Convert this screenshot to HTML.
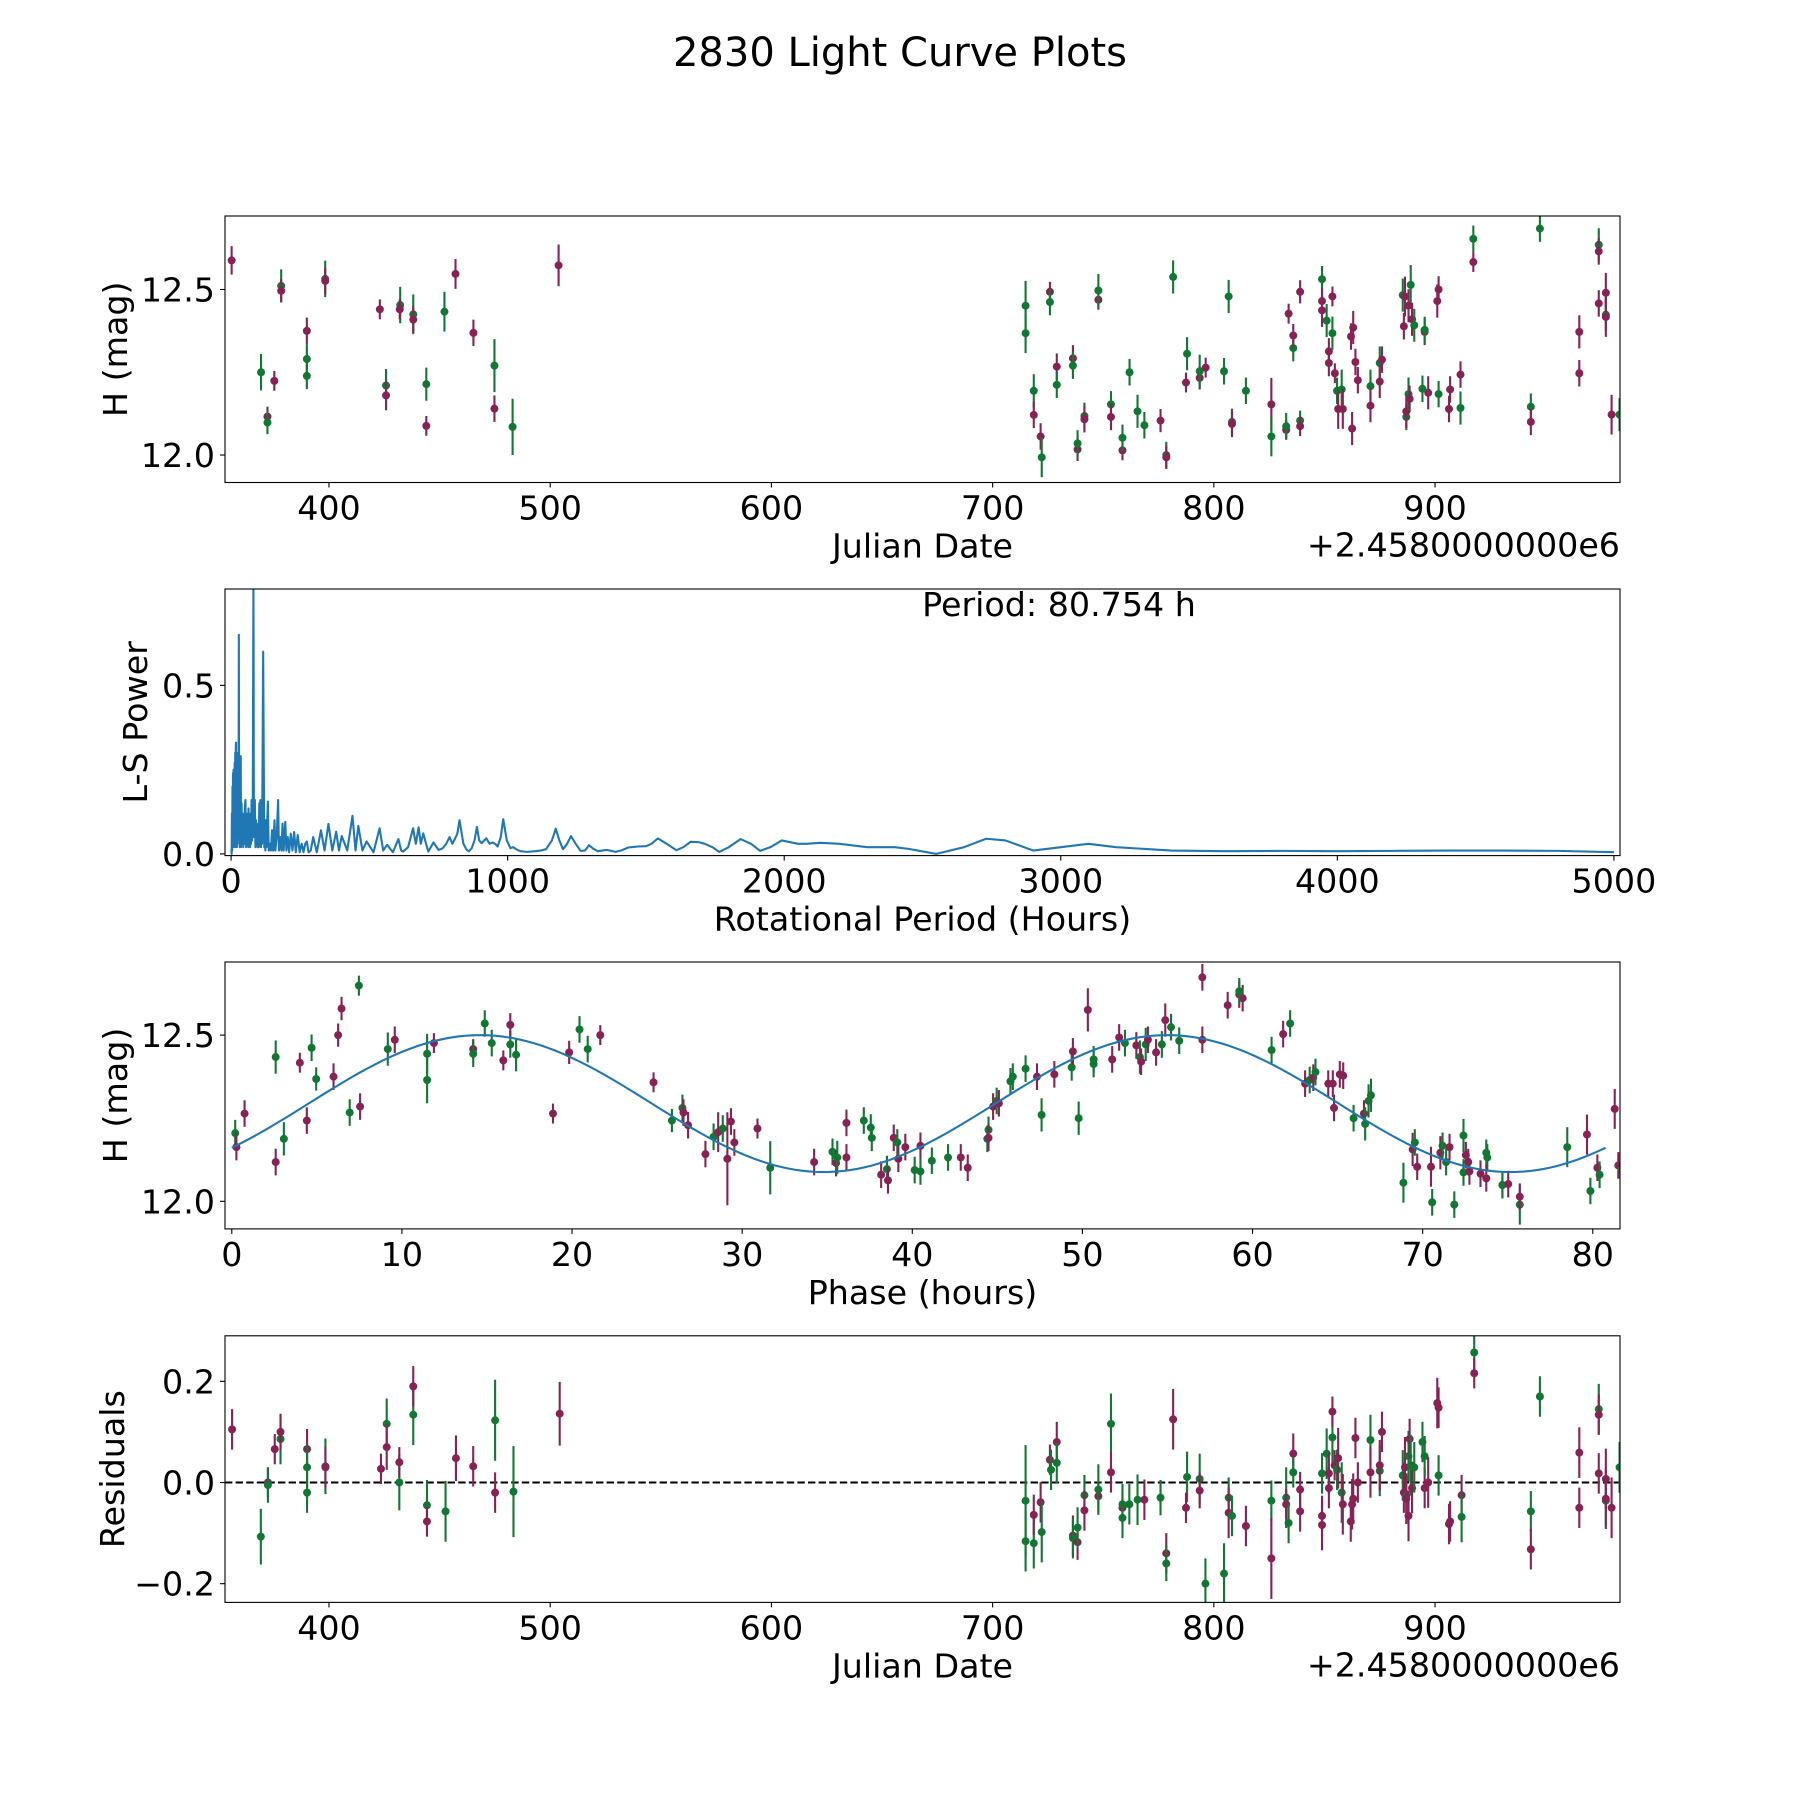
<!DOCTYPE html>
<html><head><meta charset="utf-8"><title>2830 Light Curve Plots</title>
<style>
html,body{margin:0;padding:0;background:#fff;}
svg{display:block;font-family:"DejaVu Sans","Liberation Sans",sans-serif;}
</style></head>
<body>
<svg id="fig" width="1800" height="1800" viewBox="0 0 1800 1800" xmlns="http://www.w3.org/2000/svg">
<rect x="0" y="0" width="1800" height="1800" fill="#fff"/>
<text x="900" y="66" font-size="40" text-anchor="middle">2830 Light Curve Plots</text>
</svg>
<script>
// ---------- Panel 1: light curve ----------
const lcJD = [356.0,369.3,372.2,372.2,375.3,378.4,378.4,390,390,390,398.3,398.3,423,425.8,425.8,432.2,432,438.1,438.1,444,444,452.2,457.2,465.3,474.8,474.8,483,503.8,
714.9,714.9,718.6,718.6,721.7,722.2,725.9,725.9,729,729,736.3,736.3,738.4,738.4,741.5,741.5,747.8,747.8,753.5,753.5,758.7,758.7,761.9,765.5,768.6,775.9,778.5,778.5,781.6,787.4,787.9,793.6,793.6,796.3,804.6,806.7,808.2,808.2,814.5,826,826,832.7,832.7,833.8,835.9,835.9,839,839,839,848.9,848.9,848.9,851,852,852,853.6,853.6,854.7,855.7,856.2,857.8,858.3,862,862.5,863,864,865.1,870.8,870.8,875,875,876,885.4,885.9,886.4,887,887,888,888.5,889,888,889.6,890.6,895.3,895.3,896.9,894.3,901,901.6,901.6,906.3,906.8,911.5,911.5,917.3,917.3,943.3,943.3,947.4,965.2,965.2,974,974,974,977.2,977.2,977.2,979.8,983.4];
const lcMag = [12.588,12.25,12.116,12.098,12.224,12.511,12.496,12.375,12.29,12.239,12.532,12.526,12.44,12.21,12.18,12.453,12.44,12.425,12.409,12.214,12.088,12.433,12.547,12.369,12.27,12.14,12.085,12.573,
12.451,12.368,12.194,12.121,12.056,11.993,12.493,12.462,12.267,12.212,12.292,12.27,12.017,12.035,12.118,12.108,12.469,12.497,12.153,12.115,12.014,12.052,12.25,12.132,12.09,12.104,12.0,11.993,12.538,12.219,12.306,12.233,12.253,12.264,12.253,12.479,12.1,12.094,12.194,12.153,12.056,12.076,12.087,12.427,12.323,12.361,12.104,12.087,12.493,12.531,12.465,12.437,12.406,12.313,12.278,12.368,12.479,12.247,12.194,12.139,12.198,12.139,12.358,12.08,12.385,12.281,12.226,12.208,12.149,12.278,12.222,12.288,12.483,12.389,12.479,12.115,12.132,12.184,12.17,12.514,12.451,12.41,12.392,12.372,12.378,12.188,12.2,12.465,12.5,12.184,12.139,12.198,12.243,12.142,12.653,12.583,12.146,12.1,12.684,12.372,12.247,12.635,12.615,12.458,12.49,12.424,12.417,12.122,12.122];
const lcErr = [.043,.055,.03,.035,.03,.05,.035,.04,.045,.04,.055,.04,.03,.05,.045,.055,.03,.06,.04,.05,.03,.06,.045,.04,.08,.04,.085,.063,
.075,.06,.05,.04,.04,.06,.03,.04,.04,.04,.04,.04,.035,.04,.04,.04,.03,.05,.04,.04,.03,.04,.04,.05,.04,.035,.04,.035,.05,.03,.05,.035,.05,.03,.04,.05,.04,.04,.04,.08,.06,.03,.04,.03,.04,.035,.03,.03,.035,.04,.04,.05,.05,.04,.04,.05,.03,.03,.04,.06,.06,.06,.04,.05,.05,.04,.04,.05,.05,.05,.05,.04,.05,.04,.06,.04,.05,.05,.04,.06,.05,.05,.05,.04,.04,.05,.04,.05,.04,.04,.04,.04,.04,.05,.04,.03,.04,.04,.04,.05,.04,.05,.04,.04,.06,.05,.06,.06,.05];
const lcBand = ['p','g','p','g','p','g','p','p','g','g','g','p','p','g','p','g','p','g','p','g','p','g','p','p','g','p','g','p',
'g','g','g','p','p','g','p','g','p','g','p','g','p','g','g','p','p','g','g','p','p','g','g','g','g','p','g','p','g','p','g','p','g','p','g','g','g','p','g','p','g','p','g','p','g','p','g','p','p','g','p','p','g','p','p','g','p','p','g','p','g','p','p','p','p','p','p','g','p','g','p','p','g','p','p','g','p','g','p','g','p','p','g','p','g','p','g','p','p','g','p','p','p','g','g','p','g','p','g','p','p','g','p','p','p','g','p','p','g','g','p'];

// ---------- Panel 2: periodogram ----------
const lsPeriod = [1,2,3,4,5,6,7,8,9,10,11,12,13,14,15,16,17,18,19,20,21,22,23,24,25,26,27,28,29,30,31,32,33,35,36,38,40,42,44,46,48,50,52,54,56,58,60,62,63,65,67,69,71,72,74,76,78,79,80,80.754,81.5,82,83,86,88,90,92,94,96,98,100,102,104,106,108,110,112,114,116,118,120,122,124,126,128,130,133,136,140,144,148,152,157,160,165,170,173,178,182,186,190,196,200,205,210,216,222,228,234,241,248,255,262,268,274,280,288,297,310,325,338,352,366,380,390,400,420,439,450,460,475,490,515,537,550,564,585,605,615,622,640,658,668,678,686,695,705,713,722,732,750,764,778,790,800,809,818,826,840,852,860,870,880,889,897,906,915,923,935,945,955,964,975,984,997,1010,1020,1029,1040,1048,1070,1100,1120,1139,1160,1174,1187,1200,1215,1229,1246,1264,1280,1294,1310,1326,1342,1358,1375,1390,1410,1436,1470,1500,1520,1543,1575,1610,1635,1662,1690,1713,1740,1765,1800,1842,1880,1913,1950,1991,2050,2080,2130,2200,2300,2400,2450,2550,2650,2730,2800,2900,3000,3100,3200,3400,3600,3800,4000,4200,4400,4600,4800,5000];
const lsPower = [0.01,0.0,0.12,0.01,0.2,0.02,0.24,0.03,0.25,0.04,0.2,0.02,0.27,0.05,0.3,0.02,0.32,0.33,0.05,0.3,0.02,0.25,0.03,0.2,0.05,0.3,0.1,0.65,0.1,0.2,0.02,0.25,0.05,0.29,0.02,0.15,0.03,0.12,0.02,0.1,0.03,0.14,0.16,0.02,0.1,0.03,0.12,0.02,0.135,0.03,0.1,0.02,0.12,0.03,0.16,0.04,0.1,0.3,0.6,0.79,0.6,0.25,0.05,0.16,0.02,0.1,0.03,0.08,0.02,0.09,0.02,0.15,0.03,0.16,0.02,0.1,0.03,0.3,0.6,0.3,0.02,0.07,0.01,0.1,0.02,0.08,0.155,0.01,0.03,0.01,0.07,0.01,0.1,0.01,0.05,0.16,0.01,0.05,0.01,0.09,0.01,0.095,0.01,0.05,0.005,0.06,0.01,0.065,0.005,0.056,0.005,0.03,0.005,0.03,0.037,0.005,0.01,0.05,0.005,0.07,0.01,0.089,0.01,0.066,0.01,0.053,0.01,0.113,0.01,0.083,0.01,0.037,0.005,0.076,0.01,0.027,0.005,0.044,0.01,0.007,0.02,0.076,0.03,0.079,0.03,0.061,0.03,0.007,0.02,0.034,0.012,0.016,0.03,0.05,0.03,0.044,0.06,0.1,0.03,0.012,0.008,0.017,0.04,0.08,0.04,0.032,0.04,0.046,0.03,0.034,0.03,0.022,0.05,0.103,0.04,0.017,0.02,0.015,0.01,0.008,0.006,0.008,0.01,0.014,0.04,0.075,0.04,0.014,0.03,0.053,0.03,0.009,0.01,0.026,0.015,0.008,0.01,0.012,0.009,0.006,0.01,0.019,0.022,0.023,0.03,0.046,0.03,0.011,0.02,0.036,0.035,0.03,0.02,0.006,0.02,0.044,0.03,0.009,0.02,0.04,0.03,0.03,0.033,0.03,0.02,0.02,0.015,0.0,0.02,0.045,0.04,0.01,0.02,0.03,0.02,0.01,0.008,0.009,0.008,0.009,0.01,0.01,0.009,0.005,0.001];
const bestPeriod = 80.754;

// ---------- Panel 3: phase-folded ----------
const phHours = [0.2,0.27,0.75,2.58,2.58,3.06,4.0,4.41,4.69,4.96,5.98,6.25,6.45,6.93,7.47,7.54,9.17,9.58,11.48,11.48,11.88,14.19,14.19,14.87,15.28,15.96,16.37,16.37,16.71,18.88,19.83,20.44,20.92,21.66,24.79,25.87,26.49,26.55,26.82,27.84,28.32,28.59,28.86,29.13,29.34,29.54,30.9,31.65,34.23,35.31,35.52,35.59,36.13,36.13,37.15,37.56,37.62,38.17,38.51,38.57,38.91,39.12,39.18,39.59,40.14,40.48,40.48,41.15,42.1,42.85,43.26,44.41,44.48,44.48,44.75,44.96,45.09,45.77,45.91,46.66,47.33,47.6,48.35,49.37,49.44,49.78,50.32,50.66,50.66,51.75,52.16,52.5,53.17,53.38,53.45,53.72,53.85,54.33,54.67,54.87,55.21,55.69,57.05,57.05,58.54,59.22,59.42,59.22,61.12,61.8,62.21,63.09,63.36,63.57,63.7,64.45,64.72,64.79,65.13,65.33,65.94,66.55,66.62,66.82,66.96,68.87,69.41,69.54,69.68,70.49,70.56,71.04,71.17,71.38,71.58,71.86,72.4,72.54,72.68,72.4,72.75,73.74,73.8,73.4,73.74,74.69,74.69,75.03,75.71,75.71,78.5,79.66,79.86,80.27,80.4,81.29,81.5,81.7];
const phMag = [12.205,12.163,12.264,12.434,12.118,12.188,12.417,12.243,12.462,12.368,12.375,12.5,12.58,12.267,12.649,12.285,12.458,12.486,12.444,12.365,12.476,12.458,12.444,12.535,12.476,12.424,12.472,12.531,12.441,12.264,12.448,12.517,12.458,12.5,12.358,12.243,12.281,12.267,12.229,12.142,12.194,12.208,12.219,12.128,12.24,12.177,12.219,12.101,12.118,12.149,12.115,12.132,12.132,12.236,12.243,12.222,12.191,12.08,12.097,12.063,12.191,12.177,12.128,12.163,12.094,12.167,12.09,12.122,12.132,12.132,12.101,12.188,12.215,12.191,12.285,12.302,12.295,12.361,12.375,12.399,12.375,12.26,12.382,12.403,12.451,12.25,12.576,12.413,12.427,12.427,12.493,12.476,12.469,12.434,12.42,12.472,12.486,12.448,12.472,12.545,12.524,12.483,12.674,12.486,12.59,12.622,12.611,12.632,12.455,12.503,12.535,12.354,12.365,12.372,12.389,12.354,12.354,12.281,12.382,12.378,12.25,12.264,12.233,12.302,12.319,12.056,12.156,12.177,12.104,12.104,11.997,12.146,12.167,12.118,12.163,11.99,12.198,12.139,12.118,12.087,12.09,12.146,12.132,12.083,12.069,12.049,12.049,12.052,11.99,12.014,12.163,12.201,12.031,12.101,12.08,12.278,12.108,12.097];
const phErr = [.04,.04,.04,.05,.04,.05,.03,.04,.04,.035,.04,.035,.035,.04,.03,.04,.05,.04,.06,.07,.03,.03,.04,.04,.04,.03,.04,.035,.05,.03,.035,.04,.04,.03,.03,.035,.04,.04,.04,.04,.04,.06,.04,.14,.04,.04,.03,.08,.04,.04,.04,.05,.04,.04,.04,.04,.04,.04,.04,.04,.04,.04,.04,.04,.04,.04,.04,.04,.04,.04,.04,.04,.04,.04,.04,.04,.04,.04,.04,.04,.04,.05,.04,.04,.04,.05,.065,.04,.04,.04,.04,.04,.04,.05,.04,.05,.04,.04,.04,.05,.04,.04,.04,.04,.04,.04,.04,.04,.04,.04,.04,.04,.04,.04,.04,.04,.04,.04,.04,.04,.04,.04,.05,.05,.05,.06,.05,.04,.04,.06,.04,.05,.04,.04,.04,.04,.05,.04,.04,.04,.04,.04,.04,.04,.04,.04,.04,.04,.06,.04,.06,.06,.04,.04,.04,.06,.04,.06,.06,.04];
const phBand = ['g','p','p','g','p','g','p','p','g','g','p','p','p','g','g','p','g','p','g','g','p','p','g','g','g','p','g','p','g','p','p','g','g','p','p','g','g','p','p','p','g','p','g','p','p','p','p','g','p','g','p','g','p','p','g','g','g','p','g','p','p','g','p','p','g','p','g','g','g','p','p','g','g','p','p','g','p','g','g','g','p','g','p','g','p','g','p','g','g','p','p','g','p','g','p','g','p','p','g','p','g','g','p','p','p','p','p','g','g','p','g','p','g','p','g','p','p','p','p','p','g','p','g','g','g','g','p','g','p','p','g','p','g','g','p','g','g','p','p','g','p','g','g','p','p','p','g','p','g','p','g','p','g','p','g','p','p','g','g','g'];
// fitted sinusoid parameters: [mean mag, amplitude, phase of maximum (h), harmonic period (h)]
const fitParams = [12.294, 0.206, 14.6, 40.377];

// ---------- Panel 4: residuals ----------
const resJD = [356.2,369.2,372.4,372.4,375.5,378.1,378.1,390.1,390.1,390.1,398.4,398.4,423.5,426.1,426.1,431.8,431.8,438.1,438.1,444.3,444.3,452.7,457.4,465.2,475.1,475.1,483.4,504.3,
714.9,714.9,718.6,718.6,721.7,722.2,725.9,726.4,729,729,736.3,736.3,738.4,738.4,741.5,741.5,747.8,747.8,753.5,753.5,758.7,758.7,758.7,761.8,765.5,768.6,775.9,778.5,778.5,781.6,787.9,787.4,793.6,793.6,796.2,804.6,806.7,806.7,808.2,814.5,826,826,832.7,832.7,833.8,835.9,835.9,839,839,848.9,848.9,848.9,851,852,852,853.6,853.6,854.6,855.7,856.2,857.8,858.3,861.9,862.5,863,864,865.1,870.8,870.8,875,875,876,885.4,885.9,886.4,887,887,888,888.5,889,888,889.6,890.6,895.3,895.3,896.9,894.3,901,901.6,901.6,906.3,906.8,912,912,917.7,917.7,943.3,943.3,947.4,965.2,965.2,974,974,974,977.2,977.2,977.2,979.8,983.4];
const resVal = [0.105,-0.107,0.0,-0.005,0.066,0.086,0.1,0.066,0.03,-0.02,0.032,0.03,0.027,0.116,0.07,0.0,0.04,0.134,0.19,-0.045,-0.077,-0.057,0.048,0.032,0.123,-0.02,-0.018,0.136,
-0.036,-0.116,-0.12,-0.064,-0.039,-0.098,0.045,0.025,0.08,0.039,-0.105,-0.11,-0.118,-0.089,-0.025,-0.055,-0.027,-0.014,0.116,0.02,-0.05,-0.07,-0.043,-0.043,-0.034,-0.034,-0.03,-0.14,-0.16,0.125,0.011,-0.05,0.007,-0.016,-0.2,-0.18,-0.03,-0.06,-0.066,-0.086,-0.036,-0.15,-0.03,-0.043,-0.08,0.057,0.02,-0.057,-0.014,0.018,-0.066,-0.084,0.057,0.018,-0.011,0.089,0.14,0.034,0.025,0.048,-0.02,-0.043,-0.077,-0.043,-0.032,0.088,0.0,0.084,0.02,0.023,0.034,0.1,0.014,-0.02,0.03,-0.027,-0.032,0.052,0.086,0.034,-0.066,-0.011,0.03,-0.011,0.052,0.0,0.08,0.157,0.148,0.014,-0.082,-0.077,-0.025,-0.068,0.257,0.216,-0.057,-0.132,0.17,0.059,-0.05,0.145,0.134,0.018,0.007,-0.036,-0.032,-0.05,0.03];
const resErr = [.04,.055,.03,.035,.03,.05,.035,.04,.045,.04,.055,.04,.03,.05,.045,.055,.03,.06,.04,.05,.03,.06,.045,.04,.08,.04,.09,.063,
.11,.06,.05,.04,.04,.06,.03,.04,.04,.04,.04,.04,.035,.04,.04,.04,.03,.05,.06,.04,.03,.04,.04,.04,.05,.04,.035,.04,.035,.06,.05,.03,.05,.035,.05,.06,.04,.05,.04,.04,.04,.08,.06,.03,.04,.04,.03,.04,.035,.04,.04,.05,.05,.04,.04,.05,.03,.03,.04,.06,.06,.06,.04,.05,.05,.04,.04,.05,.05,.05,.05,.04,.05,.04,.06,.04,.05,.05,.04,.06,.05,.05,.05,.04,.04,.05,.04,.05,.04,.04,.04,.04,.04,.05,.04,.03,.04,.04,.04,.05,.04,.05,.04,.04,.06,.05,.06,.06,.05];
const resBand = lcBand.slice();

// ---------- Drawing helpers ----------
const NS = 'http://www.w3.org/2000/svg';
const svg = document.getElementById('fig');
const COL = {g:'#117733', p:'#882255'};
const L = 225, R = 1620;
const FS = 33.3;
const panels = [
  {top:216, bot:482.5},
  {top:589, bot:855.6},
  {top:962, bot:1228.9},
  {top:1335.8, bot:1602.4}
];
function mk(tag, attrs, parent){
  const e = document.createElementNS(NS, tag);
  for (const k in attrs) e.setAttribute(k, attrs[k]);
  (parent||svg).appendChild(e);
  return e;
}
function lin(d0,d1,p0,p1){ return v => p0 + (v-d0)*(p1-p0)/(d1-d0); }

function makeAxes(i, xlim, ylim, name){
  const P = panels[i];
  const g = mk('g', {});
  
  
  const cp = mk('clipPath', {id:'clip'+i}, g);
  mk('rect', {x:L, y:P.top, width:R-L, height:P.bot-P.top}, cp);
  const plot = mk('g', {'clip-path':'url(#clip'+i+')'}, g);
  const fx = lin(xlim[0], xlim[1], L, R);
  const fy = lin(ylim[0], ylim[1], P.bot, P.top);
  return {g, plot, fx, fy, P};
}
function frame(ax){
  const r = mk('rect', {x:L, y:ax.P.top, width:R-L, height:ax.P.bot-ax.P.top, fill:'none', stroke:'#000', 'stroke-width':1.1}, ax.g);
  
  
}
function xticks(ax, vals, labels){
  vals.forEach((v,k)=>{
    const x = ax.fx(v);
    mk('line', {x1:x, x2:x, y1:ax.P.bot, y2:ax.P.bot+5, stroke:'#000', 'stroke-width':1.1}, ax.g);
    const t = mk('text', {x:x, y:ax.P.bot+37, 'font-size':FS, 'text-anchor':'middle'}, ax.g);
    
    
    t.textContent = labels[k];
  });
}
function yticks(ax, vals, labels){
  vals.forEach((v,k)=>{
    const y = ax.fy(v);
    mk('line', {x1:L-5, x2:L, y1:y, y2:y, stroke:'#000', 'stroke-width':1.1}, ax.g);
    const t = mk('text', {x:L-10, y:y+12, 'font-size':FS, 'text-anchor':'end'}, ax.g);
    
    
    t.textContent = labels[k];
  });
}
function xlabel(ax, txt, nm){
  const t = mk('text', {x:(L+R)/2, y:ax.P.bot+75, 'font-size':FS, 'text-anchor':'middle'}, ax.g);
  
  
  t.textContent = txt;
}
function ylabel(ax, txt, cx, nm){
  const cy = (ax.P.top+ax.P.bot)/2;
  const t = mk('text', {x:cx, y:cy, 'font-size':FS, 'text-anchor':'middle', transform:'rotate(-90 '+cx+' '+cy+')'}, ax.g);
  
  
  t.textContent = txt;
}
function offsetText(ax){
  const t = mk('text', {x:R, y:ax.P.bot+74, 'font-size':FS, 'text-anchor':'end'}, ax.g);
  
  
  t.textContent = '+2.4580000000e6';
}
function errpoints(ax, xs, ys, es, bs, nm){
  xs.forEach((xv,k)=>{
    const x = ax.fx(xv), c = COL[bs[k]];
    const grp = mk('g', {}, ax.plot);
    
    
    mk('line', {x1:x, x2:x, y1:ax.fy(ys[k]-es[k]), y2:ax.fy(ys[k]+es[k]), stroke:c, 'stroke-width':2.1}, grp);
    mk('circle', {cx:x, cy:ax.fy(ys[k]), r:4, fill:c}, grp);
  });
}

// Panel 1
const jdTicks = [400,500,600,700,800,900];
const jdTickLabels = ['400','500','600','700','800','900'];
const magTicks = [12.0,12.5];
const magTickLabels = ['12.0','12.5'];
const a1 = makeAxes(0, [353,983.6], [11.917,12.722], 'light-curve-panel');
errpoints(a1, lcJD, lcMag, lcErr, lcBand, 'observation-point');
frame(a1); xticks(a1, jdTicks, jdTickLabels); yticks(a1, magTicks, magTickLabels);
xlabel(a1, 'Julian Date', 'x-axis-title'); ylabel(a1, 'H (mag)', 127, 'y-axis-title'); offsetText(a1);

// Panel 2
const perTicks = [0,1000,2000,3000,4000,5000];
const perTickLabels = ['0','1000','2000','3000','4000','5000'];
const powTicks = [0.0,0.5];
const powTickLabels = ['0.0','0.5'];
const a2 = makeAxes(1, [-22,5022], [-0.005,0.786], 'periodogram-panel');
let d = '';
lsPeriod.forEach((p,k)=>{ d += (k?'L':'M') + a2.fx(p).toFixed(2) + ' ' + a2.fy(lsPower[k]).toFixed(2); });
const ln = mk('path', {d:d, fill:'none', stroke:'#1f77b4', 'stroke-width':2.1, 'stroke-linejoin':'round'}, a2.plot);


frame(a2); xticks(a2, perTicks, perTickLabels); yticks(a2, powTicks, powTickLabels);
xlabel(a2, 'Rotational Period (Hours)', 'x-axis-title'); ylabel(a2, 'L-S Power', 147, 'y-axis-title');
const pt = mk('text', {x:1059, y:616, 'font-size':FS, 'text-anchor':'middle'}, a2.g);


pt.textContent = 'Period: ' + bestPeriod.toFixed(3) + ' h';

// Panel 3
const phTicks = [0,10,20,30,40,50,60,70,80];
const phTickLabels = ['0','10','20','30','40','50','60','70','80'];
const a3 = makeAxes(2, [-0.4,81.6], [11.917,12.72], 'phase-folded-panel');
errpoints(a3, phHours, phMag, phErr, phBand, 'phased-point');
let fd = '';
for (let k=0;k<=200;k++){
  const ph = bestPeriod*k/200;
  const m = fitParams[0] + fitParams[1]*Math.cos(2*Math.PI*(ph-fitParams[2])/fitParams[3]);
  fd += (k?'L':'M') + a3.fx(ph).toFixed(2) + ' ' + a3.fy(m).toFixed(2);
}
const fl = mk('path', {d:fd, fill:'none', stroke:'#1f77b4', 'stroke-width':2.1}, a3.plot);


frame(a3); xticks(a3, phTicks, phTickLabels); yticks(a3, magTicks, magTickLabels);
xlabel(a3, 'Phase (hours)', 'x-axis-title'); ylabel(a3, 'H (mag)', 127, 'y-axis-title');

// Panel 4
const resTicks = [-0.2,0.0,0.2];
const resTickLabels = ['\u22120.2','0.0','0.2'];
const a4 = makeAxes(3, [353,983.6], [-0.237,0.29], 'residuals-panel');
const zl = mk('line', {x1:L, x2:R, y1:a4.fy(0), y2:a4.fy(0), stroke:'#000', 'stroke-width':2, 'stroke-dasharray':'7.4,3.2'}, a4.plot);


errpoints(a4, resJD, resVal, resErr, resBand, 'residual-point');
frame(a4); xticks(a4, jdTicks, jdTickLabels); yticks(a4, resTicks, resTickLabels);
xlabel(a4, 'Julian Date', 'x-axis-title'); ylabel(a4, 'Residuals', 124, 'y-axis-title'); offsetText(a4);
</script>
</body></html>
